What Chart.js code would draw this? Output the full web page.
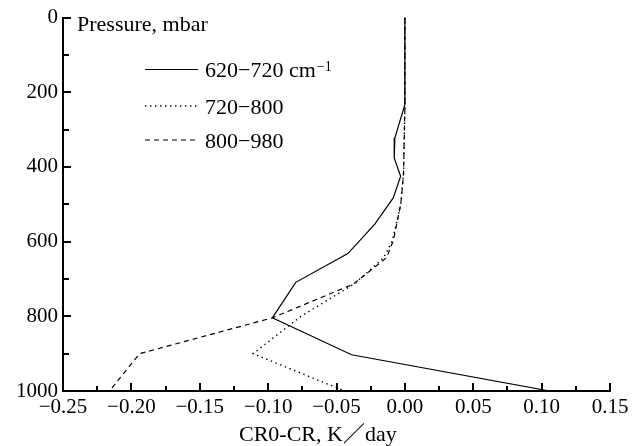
<!DOCTYPE html>
<html>
<head>
<meta charset="utf-8">
<script src="https://cdn.jsdelivr.net/npm/chart.js@4.4.1/dist/chart.umd.min.js"></script>
<style>
  html, body { margin: 0; padding: 0; background: #fff; }
</style>
</head>
<body>
<canvas id="chartCR" width="639" height="446"></canvas>
<script>
var serif = '"Liberation Serif", "Times New Roman", "Noto Sans CJK JP", serif';

// 620-720 cm-1 (solid)
var pres620 = [0, 233, 322, 376, 425, 483, 553, 632, 709, 804, 903, 1000];
var cr620 = [0, 0, -0.0073, -0.0078, -0.0031, -0.0085, -0.022, -0.0417, -0.0798, -0.0969, -0.039, 0.106];

// 720-800 (dotted)
var pres720 = [0, 240, 420, 500, 598, 643, 712, 800, 900, 1000];
var cr720 = [0, 0, -0.001, -0.003, -0.0092, -0.0155, -0.0365, -0.076, -0.111, -0.044];

// 800-980 (dashed)
var pres800 = [0, 240, 420, 500, 598, 643, 714, 804, 900, 1000];
var cr800 = [0, 0, -0.001, -0.003, -0.0085, -0.0134, -0.0378, -0.0969, -0.194, -0.216];

var legendNames = ['620\u2212720', '720\u2212800', '800\u2212980'];

function toPoints(xs, ys) {
    var pts = [];
    for (var i = 0; i < xs.length; i++) {
        pts.push({ x: xs[i], y: ys[i] });
    }
    return pts;
}

function xLabel(v) {
    var m = Math.round(v * 1000);
    if (m % 50 !== 0) return '';
    var s = Math.abs(v).toFixed(2);
    return m < 0 ? '\u2212' + s : s;
}

// ticks pointing into the plot, like the original
var insideTicks = {
    id: 'insideTicks',
    afterDraw: function (chart) {
        var ctx = chart.ctx;
        var area = chart.chartArea;
        var xs = chart.scales.x, ys = chart.scales.y;
        ctx.save();
        ctx.strokeStyle = '#000';
        ctx.lineWidth = 2;
        xs.ticks.forEach(function (t) {
            var px = Math.round(xs.getPixelForValue(t.value));
            var len = Math.round(t.value * 1000) % 50 === 0 ? 8 : 5;
            ctx.beginPath();
            ctx.moveTo(px, area.bottom);
            ctx.lineTo(px, area.bottom - len);
            ctx.stroke();
        });
        ys.ticks.forEach(function (t) {
            var py = Math.round(ys.getPixelForValue(t.value));
            var len = t.value % 200 === 0 ? 8 : 6;
            ctx.beginPath();
            ctx.moveTo(area.left, py);
            ctx.lineTo(area.left + len, py);
            ctx.stroke();
        });
        ctx.restore();
    }
};

var texts = {
    id: 'texts',
    afterDraw: function (chart) {
        var ctx = chart.ctx;
        ctx.save();
        ctx.fillStyle = '#000';
        ctx.textBaseline = 'alphabetic';
        ctx.textAlign = 'left';
        ctx.font = '22px ' + serif;
        ctx.fillText('Pressure, mbar', 77, 30.5);
        ctx.fillText('CR0-CR, K\uFF0Fday', 239, 441);

        // legend
        var rows = [69.5, 106, 140];
        chart.data.datasets.forEach(function (ds, i) {
            ctx.save();
            ctx.strokeStyle = ds.borderColor;
            ctx.lineWidth = ds.borderWidth;
            ctx.setLineDash(ds.borderDash || []);
            ctx.beginPath();
            ctx.moveTo(145, rows[i]);
            ctx.lineTo(198, rows[i]);
            ctx.stroke();
            ctx.restore();
            ctx.font = '22px ' + serif;
            ctx.fillText(legendNames[i], 205, rows[i] + 7.5);
            if (i === 0) {
                var w = ctx.measureText(legendNames[i] + ' ').width;
                ctx.fillText('cm', 205 + w, rows[i] + 7.5);
                var w2 = ctx.measureText('cm').width;
                ctx.font = '14px ' + serif;
                ctx.fillText('\u22121', 205 + w + w2 + 1, rows[i] + 1.5);
            }
        });
        ctx.restore();
    }
};

var ctx = document.getElementById('chartCR').getContext('2d');

var chart = new Chart(ctx, {
    type: 'line',
    data: {
        datasets: [{
            label: '620-720 cm-1',
            data: toPoints(cr620, pres620),
            borderColor: '#000',
            borderWidth: 1.2,
            pointRadius: 0,
            tension: 0
        }, {
            label: '720-800',
            data: toPoints(cr720, pres720),
            borderColor: '#000',
            borderWidth: 1.4,
            borderDash: [1.4, 3.6],
            pointRadius: 0,
            tension: 0
        }, {
            label: '800-980',
            data: toPoints(cr800, pres800),
            borderColor: '#000',
            borderWidth: 1.2,
            borderDash: [5, 4],
            pointRadius: 0,
            tension: 0
        }]
    },
    options: {
        responsive: false,
        animation: false,
        layout: { padding: { top: 16, right: 29, left: 0, bottom: 0 } },
        plugins: {
            legend: { display: false },
            tooltip: { enabled: false }
        },
        scales: {
            x: {
                type: 'linear',
                min: -0.25,
                max: 0.15,
                afterFit: function (scale) { scale.height = 55; },
                ticks: {
                    stepSize: 0.025,
                    autoSkip: false,
                    maxRotation: 0,
                    padding: 4,
                    color: '#000',
                    font: { family: serif, size: 21 },
                    callback: function (v) { return xLabel(v); }
                },
                grid: { drawOnChartArea: false, drawTicks: false },
                border: { display: true, color: '#000', width: 2 }
            },
            y: {
                type: 'linear',
                reverse: true,
                min: 0,
                max: 1000,
                afterFit: function (scale) { scale.width = 63; },
                ticks: {
                    stepSize: 100,
                    autoSkip: false,
                    padding: 5,
                    color: '#000',
                    font: { family: serif, size: 21 },
                    callback: function (v) { return v % 200 === 0 ? String(v) : ''; }
                },
                grid: { drawOnChartArea: false, drawTicks: false },
                border: { display: true, color: '#000', width: 2 }
            }
        }
    },
    plugins: [insideTicks, texts]
});
</script>
</body>
</html>
